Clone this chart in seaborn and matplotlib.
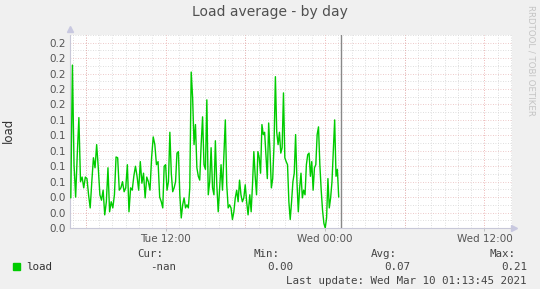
import numpy as np
import pandas as pd
import matplotlib
matplotlib.use("Agg")
import matplotlib.pyplot as plt
from matplotlib.patches import Rectangle
from matplotlib.ticker import MultipleLocator, FixedLocator
import seaborn as sns

# ---- data (hours since Tue 00:00) ----
seg1_start, seg1_end = 4.87, 11.68
seg1_vals = [0.039, 0.211, 0.082, 0.040, 0.095, 0.143, 0.060, 0.066, 0.052, 0.066,
             0.064, 0.043, 0.026, 0.060, 0.091, 0.078, 0.108, 0.078, 0.043, 0.036,
             0.049, 0.017, 0.034, 0.078, 0.021, 0.034, 0.026, 0.043, 0.092, 0.091,
             0.049, 0.052, 0.060, 0.047, 0.052, 0.082, 0.021, 0.052, 0.049, 0.067,
             0.080, 0.067, 0.049, 0.086, 0.058, 0.071, 0.039, 0.066, 0.060, 0.049,
             0.091, 0.118, 0.108, 0.082, 0.086, 0.040, 0.034]
seg2_start, seg2_end = 11.79, 18.21
seg2_vals = [0.026, 0.080, 0.082, 0.049, 0.060, 0.124, 0.071, 0.047, 0.052, 0.060,
             0.097, 0.099, 0.043, 0.013, 0.030, 0.039, 0.026, 0.030, 0.026, 0.052,
             0.202, 0.169, 0.108, 0.134, 0.078, 0.067, 0.062, 0.108, 0.144, 0.082,
             0.076, 0.166, 0.043, 0.060, 0.104, 0.052, 0.043, 0.113, 0.056, 0.021,
             0.052, 0.082, 0.049, 0.095, 0.140, 0.056, 0.026, 0.030, 0.026, 0.011,
             0.021, 0.039, 0.049, 0.034, 0.062, 0.043, 0.034, 0.039, 0.056, 0.034,
             0.017]
seg3_start, seg3_end = 18.34, 25.03
seg3_vals = [0.043, 0.021, 0.056, 0.099, 0.067, 0.043, 0.099, 0.091, 0.071, 0.134,
             0.121, 0.124, 0.095, 0.064, 0.136, 0.099, 0.052, 0.064, 0.108, 0.196,
             0.124, 0.108, 0.124, 0.097, 0.104, 0.175, 0.091, 0.086, 0.082, 0.034,
             0.011, 0.034, 0.060, 0.071, 0.121, 0.060, 0.021, 0.052, 0.071, 0.039,
             0.049, 0.043, 0.082, 0.095, 0.097, 0.067, 0.086, 0.049, 0.078, 0.082,
             0.121, 0.131, 0.082, 0.049, 0.023, 0.006, 0.000, 0.013, 0.064, 0.026,
             0.039, 0.060, 0.099, 0.140, 0.067, 0.076, 0.040]

x_start, x_end = 4.81, 38.07
now_hour = 25 + 13.75 / 60
tick_hours = [12, 24, 36]
tick_labels = ["Tue 12:00", "Wed 00:00", "Wed 12:00"]
y_max = 0.25

title = "Load average - by day"
series_name = "load"
stats_headers = ["Cur:", "Min:", "Avg:", "Max:"]
stats_values = ["-nan", "0.00", "0.07", "0.21"]
last_update = "Last update: Wed Mar 10 01:13:45 2021"
side_text = "RRDTOOL / TOBI OETIKER"

# ---- build frame ----
t = np.concatenate([np.linspace(seg1_start, seg1_end, len(seg1_vals)),
                    np.linspace(seg2_start, seg2_end, len(seg2_vals)),
                    np.linspace(seg3_start, seg3_end, len(seg3_vals))])
v = np.array(seg1_vals + seg2_vals + seg3_vals)
df = pd.DataFrame({"hour": t, "load": v})

sns.set_theme(style="white")
plt.rcParams["font.family"] = ["DejaVu Sans"]

W, H = 540, 289
fig = plt.figure(figsize=(W / 100, H / 100), dpi=100, facecolor="#F0F0F0")
L, R, T, B = 70, 512, 35, 228
ax = fig.add_axes([L / W, 1 - B / H, (R - L) / W, (B - T) / H])
ax.set_facecolor("white")

# grid
ax.set_xlim(x_start, x_end)
ax.set_ylim(0, y_max)
ax.xaxis.set_major_locator(FixedLocator(tick_hours))
ax.xaxis.set_minor_locator(MultipleLocator(1))
ax.yaxis.set_major_locator(MultipleLocator(0.02))
ax.yaxis.set_minor_locator(MultipleLocator(0.01))
for hh in np.arange(6, 38, 6):
    ax.axvline(hh, color="#E8A0A0", lw=0.6, ls=(0, (1, 2)), zorder=1)
ax.grid(which="minor", axis="x", color="#D4D4D4", lw=0.6, ls=(0, (1, 2)), zorder=0)
ax.grid(which="minor", axis="y", color="#D4D4D4", lw=0.6, ls=(0, (1, 2)), zorder=0)
ax.grid(which="major", axis="y", color="#E8B8B8", lw=0.6, ls=(0, (1, 2)), zorder=1)

sns.lineplot(data=df, x="hour", y="load", ax=ax, color="#00CC00", lw=1.0,
             legend=False, zorder=3)
ax.axvline(now_hour, color="#888888", lw=1.0, zorder=4)

ax.set_xticks(tick_hours)
ax.set_xticklabels(tick_labels)
ax.yaxis.set_major_formatter(matplotlib.ticker.FormatStrFormatter("%.1f"))
ax.tick_params(axis="both", which="major", labelsize=7.5, colors="#555555",
               length=3, width=0.6, pad=3)
ax.tick_params(axis="both", which="minor", length=0)
ax.tick_params(axis="x", which="major", bottom=True, length=2, color="#BBBBBB", pad=2)
ax.tick_params(axis="y", which="major", left=True, length=0)
for lbl in ax.get_xticklabels() + ax.get_yticklabels():
    lbl.set_color("#555555")
ax.set_xlabel("")
ax.set_ylabel("")

for s in ["top", "right"]:
    ax.spines[s].set_visible(False)
for s in ["left", "bottom"]:
    ax.spines[s].set_color("#C8C8D8")
    ax.spines[s].set_linewidth(0.8)
# axis arrows
ax.plot([0], [1.03], marker="^", ms=4, color="#C8C8E0", transform=ax.transAxes,
        clip_on=False)
ax.plot([1.005], [0], marker=">", ms=4, color="#C8C8E0", transform=ax.transAxes,
        clip_on=False)

# texts
def fx(px):
    return px / W

def fy(py):
    return 1 - py / H

fig.text(fx(270), fy(12), title, ha="center", va="center", fontsize=10, color="#505050")
fig.text(fx(8), fy(130), series_name, ha="center", va="center", rotation=90,
         fontsize=8.5, color="#333333")
fig.text(fx(531), fy(60), side_text, ha="center", va="center", rotation=270,
         fontsize=6.2, color="#C4C4C4")

mono = "DejaVu Sans Mono"
ms = 7.8
fig.add_artist(Rectangle((fx(13), fy(270)), 7 / W, 7 / H, transform=fig.transFigure,
                         color="#00CC00"))
fig.text(fx(26), fy(267), series_name, ha="left", va="center", fontsize=ms,
         family=mono, color="#333333")
head_right = [163, 280, 397, 515]
val_right = [176, 293, 410, 527]
for hdr, hx in zip(stats_headers, head_right):
    fig.text(fx(hx), fy(254), hdr, ha="right", va="center", fontsize=ms,
             family=mono, color="#444444")
for val, vx in zip(stats_values, val_right):
    fig.text(fx(vx), fy(267), val, ha="right", va="center", fontsize=ms,
             family=mono, color="#444444")
fig.text(fx(527), fy(281), last_update, ha="right", va="center", fontsize=ms,
         family=mono, color="#444444")

fig.savefig("out.png", dpi=100, facecolor=fig.get_facecolor())
